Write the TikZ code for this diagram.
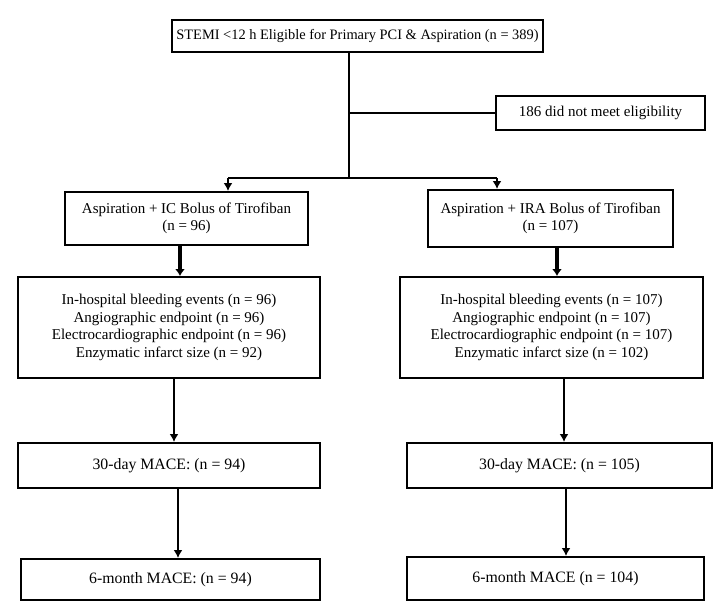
\documentclass[tikz,border=0pt]{standalone}
\usepackage{fontspec}
\setmainfont{Liberation Serif}
\usetikzlibrary{arrows.meta, positioning}

\begin{document}
\begin{tikzpicture}[
    x=1pt, y=-1pt,
    box/.style={rectangle, draw, line width=2pt, fill=white, align=center, inner sep=2pt, font=\fontsize{15}{17.5}\selectfont},
    macebox/.style={box, font=\fontsize{15.8}{19}\selectfont},
    trunk/.style={line width=2.6pt},
    thinline/.style={line width=1.4pt},
    arrow/.style={-{Latex[length=8pt,width=9pt]}, line width=1.8pt},
    fatarrow/.style={-{Latex[length=7pt,width=10pt]}, line width=3.6pt}
]
\useasboundingbox (0,0) rectangle (720,614);
% screening
\node[box, font=\fontsize{14.4}{17}\selectfont, minimum width=371pt, minimum height=32pt] (screen) at (357.5,36) {STEMI <12 h Eligible for Primary PCI \& Aspiration (n = 389)};
\node[box, minimum width=209pt, minimum height=34pt] (excl) at (600.5,113) {186 did not meet eligibility};
% randomised arms
\node[box, minimum width=243pt, minimum height=53pt] (armA) at (186.5,218.5) {Aspiration + IC Bolus of Tirofiban\\(n = 96)};
\node[box, minimum width=245pt, minimum height=57pt] (armB) at (550.5,218.5) {Aspiration + IRA Bolus of Tirofiban\\(n = 107)};
% endpoints
\node[box, minimum width=302pt, minimum height=101pt] (outA) at (169,327.5) {In-hospital bleeding events (n = 96)\\Angiographic endpoint (n = 96)\\Electrocardiographic endpoint (n = 96)\\Enzymatic infarct size (n = 92)};
\node[box, minimum width=303pt, minimum height=101pt] (outB) at (551.5,327.5) {In-hospital bleeding events (n = 107)\\Angiographic endpoint (n = 107)\\Electrocardiographic endpoint (n = 107)\\Enzymatic infarct size (n = 102)};
% follow-up
\node[macebox, minimum width=302pt, minimum height=45pt] (maceA) at (169,465.5) {30-day MACE: (n = 94)};
\node[macebox, minimum width=305pt, minimum height=45pt] (maceB) at (559.5,465.5) {30-day MACE: (n = 105)};
\node[macebox, minimum width=299pt, minimum height=41pt] (sixA) at (170.5,579.5) {6-month MACE: (n = 94)};
\node[macebox, minimum width=297pt, minimum height=43pt] (sixB) at (555.5,578.5) {6-month MACE (n = 104)};

\coordinate (split) at (349,178);
\coordinate (splitA) at (228,178);
\coordinate (splitB) at (497,178);
\draw[trunk] (screen.south -| split) -- (split);
\draw[trunk] (split |- excl.west) -- (excl.west);
\draw[thinline] (splitA) -- (splitB);
\draw[arrow] (splitA) -- (splitA |- armA.north);
\draw[arrow] (splitB) -- (splitB |- armB.north);
\draw[fatarrow] ([xshift=-6.5pt]armA.south) -- ([xshift=-6.5pt]armA.south |- outA.north);
\draw[fatarrow] ([xshift=6.5pt]armB.south) -- ([xshift=6.5pt]armB.south |- outB.north);
\draw[arrow] ([xshift=5pt]outA.south) -- ([xshift=5pt]outA.south |- maceA.north);
\draw[arrow] ([xshift=12.5pt]outB.south) -- ([xshift=12.5pt]outB.south |- maceB.north);
\draw[arrow] ([xshift=9pt]maceA.south) -- ([xshift=9pt]maceA.south |- sixA.north);
\draw[arrow] ([xshift=6.5pt]maceB.south) -- ([xshift=6.5pt]maceB.south |- sixB.north);
\end{tikzpicture}
\end{document}
